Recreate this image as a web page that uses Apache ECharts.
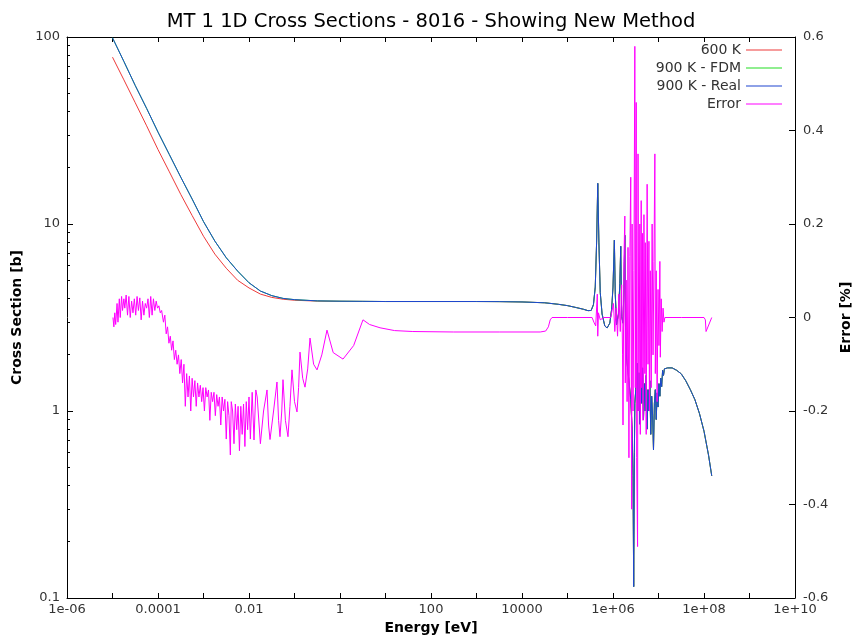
<!DOCTYPE html>
<html><head><meta charset="utf-8">
<script src="https://cdn.jsdelivr.net/npm/echarts@6/dist/echarts.min.js"></script>
<style>html,body{margin:0;padding:0;background:#fff}#c{width:856px;height:642px}</style>
</head><body><div id="c"></div>
<script>
const FONT = 'DejaVu Sans';
const chartTitle = 'MT 1 1D Cross Sections - 8016 - Showing New Method';
const seriesNames = ['600 K', '900 K - FDM', '900 K - Real', 'Error'];
const seriesColors = ['#ee3a3a', '#22dd22', '#1f45d0', '#ff00ff'];

// x axis (log10 of energy in eV)
const xTickExp = [-6,-5,-4,-3,-2,-1,0,1,2,3,4,5,6,7,8,9,10];
const xLabelExp = [-6,-4,-2,0,2,4,6,8,10];
const xLabelText = ['1e-06','0.0001','0.01','1','100','10000','1e+06','1e+08','1e+10'];
// left axis
const yLeftTicks = [0.1, 1, 10, 100];
const yLeftLabels = ['0.1', '1', '10', '100'];
const yLeftMinor = [0.2,0.3,0.4,0.5,0.6,0.7,0.8,0.9,2,3,4,5,6,7,8,9,20,30,40,50,60,70,80,90];
// right axis
const yRightTicks = [-0.6,-0.4,-0.2,0,0.2,0.4,0.6];
const yRightLabels = ['-0.6','-0.4','-0.2','0','0.2','0.4','0.6'];

// ---- cross sections, low-energy part (log10 E, barns) ----
const logELow = [-5.0,-4.75,-4.5,-4.25,-4.0,-3.75,-3.5,-3.25,-3.0,-2.75,-2.5,-2.25,-2.0,-1.75,-1.5,-1.25,-1.0,-0.5,0.0,0.5];
const xs600Low = [78,59,44.5,33.5,25,19,14.4,11.1,8.6,6.9,5.8,5.0,4.55,4.22,4.05,3.96,3.91,3.87,3.86,3.855];
const xs900Low = [99,74,55,41.5,31,23.5,17.8,13.6,10.3,8.1,6.6,5.6,4.85,4.38,4.14,4.0,3.94,3.88,3.865,3.858];
// ---- cross sections, high-energy part shared by all temperatures ----
const logEHigh = [1,2,3,3.5,4,4.5,4.8,5.0,5.2,5.35,5.45,5.52,5.57,5.61,5.64,5.665,5.69,5.72,5.76,5.82,5.87,5.93,5.97,6.0,6.03,6.05,6.08,6.12,6.15,6.17,6.19,6.22,6.24,6.26,6.275,6.30,6.35,6.39,6.42,6.44,6.455,6.47,6.48,
  6.50,6.53,6.55,6.57,6.59,6.61,6.63,6.65,6.67,6.69,6.71,6.73,6.75,6.77,6.79,6.81,6.83,6.85,6.87,6.89,6.91,6.93,6.95,6.97,6.99,7.01,7.03,7.05,7.07,7.09,7.11,7.13,7.2,7.3,7.4,7.5,7.6,7.7,7.8,7.9,8.0,8.1,8.17];
const xsHigh = [3.85,3.85,3.85,3.845,3.83,3.79,3.72,3.66,3.57,3.5,3.44,3.45,3.7,4.6,8.0,16.5,8.0,4.3,3.3,2.85,2.78,2.95,3.5,4.6,8.2,4.2,2.9,3.3,4.8,7.6,3.2,2.95,4.5,8.7,2.8,1.9,1.45,1.15,0.8,0.45,0.115,0.6,1.1,
  1.3,1.8,1.0,1.6,0.85,1.5,1.1,1.7,0.9,1.4,1.0,1.55,0.8,1.3,1.0,1.45,0.75,1.2,0.95,0.62,1.1,1.3,0.9,1.25,1.05,1.4,1.2,1.5,1.35,1.65,1.55,1.68,1.7,1.7,1.65,1.58,1.45,1.3,1.15,0.97,0.78,0.58,0.45];

// ---- error [%] (log10 E, percent) ----
const logEErr = [-4.99,-4.97,-4.95,-4.93,-4.90,-4.88,-4.85,-4.83,-4.80,-4.78,-4.75,-4.73,-4.70,-4.67,-4.64,-4.61,-4.58,-4.55,-4.52,-4.49,-4.46,-4.43,-4.40,-4.37,-4.34,-4.31,-4.28,-4.25,-4.22,-4.19,-4.16,-4.13,-4.10,-4.07,-4.04,-4.01,-3.98,-3.95,-3.92,-3.88,-3.85,-3.82,-3.79,-3.76,-3.73,-3.70,-3.67,-3.64,-3.61,-3.58,-3.55,-3.52,-3.49,-3.46,-3.43,-3.40,-3.37,-3.34,-3.31,-3.28,-3.25,-3.22,-3.19,-3.16,-3.13,-3.10,-3.07,-3.04,-3.01,-2.98,-2.95,-2.92,-2.89,-2.86,-2.83,-2.80,-2.77,-2.74,-2.71,-2.68,-2.65,-2.62,-2.59,-2.56,-2.53,-2.50,-2.47,-2.44,-2.41,-2.39,-2.36,-2.33,-2.30,-2.27,-2.24,-2.21,-2.18,-2.15,-2.12,-2.09,-2.06,-2.03,-2.00,-1.97,-1.93,-1.89,-1.85,-1.82,-1.75,-1.68,-1.604,-1.57,-1.538,-1.46,-1.385,-1.35,-1.319,-1.28,-1.253,-1.2,-1.143,-1.1,-1.055,-1.0,-0.945,-0.91,-0.879,-0.82,-0.769,-0.71,-0.659,-0.58,-0.505,-0.4,-0.286,-0.15,0.066,0.3,0.505,0.65,0.88,1.2,1.6,2.5,3.5,4.4,4.52,4.58,4.62,4.66,5.0,5.54,5.58,5.62,5.655,5.665,5.68,5.72,5.8,5.95,
  5.98,6.01,6.04,6.07,6.10,6.13,6.16,6.19,6.21,6.22,6.24,6.26,6.27,6.29,6.31,6.33,6.35,6.37,6.39,6.41,6.42,6.44,6.46,6.48,6.49,6.51,6.52,6.54,6.55,6.57,6.59,6.60,6.62,6.63,6.65,6.66,6.68,6.70,6.71,6.73,6.75,6.77,6.79,6.80,6.82,6.84,6.86,6.88,6.90,6.92,6.93,6.95,6.97,6.99,7.01,7.03,7.04,7.06,7.08,7.10,7.12,7.14,7.5,8.0,8.03,8.045,8.17];
const errVals = [0.00,-0.02,0.01,-0.015,0.03,-0.01,0.04,0.0,0.045,0.015,0.04,0.02,0.048,0.005,0.045,0.0,0.035,0.01,0.04,0.005,0.045,0.015,0.042,-0.005,0.035,0.005,0.03,0.02,0.04,0.0,0.045,0.005,0.04,0.015,0.035,0.02,0.025,0.01,0.015,-0.01,0.005,-0.035,-0.02,-0.055,-0.04,-0.07,-0.05,-0.09,-0.07,-0.1,-0.08,-0.12,-0.09,-0.14,-0.1,-0.19,-0.12,-0.17,-0.125,-0.2,-0.13,-0.17,-0.135,-0.19,-0.14,-0.17,-0.145,-0.18,-0.15,-0.2,-0.15,-0.17,-0.155,-0.22,-0.16,-0.18,-0.16,-0.21,-0.165,-0.19,-0.17,-0.23,-0.17,-0.2,-0.175,-0.26,-0.18,-0.21,-0.294,-0.18,-0.2,-0.27,-0.185,-0.24,-0.19,-0.285,-0.19,-0.25,-0.185,-0.276,-0.18,-0.24,-0.17,-0.26,-0.16,-0.262,-0.155,-0.17,-0.27,-0.2,-0.155,-0.23,-0.261,-0.2,-0.138,-0.22,-0.255,-0.2,-0.133,-0.22,-0.255,-0.19,-0.112,-0.18,-0.202,-0.15,-0.074,-0.13,-0.149,-0.11,-0.044,-0.1,-0.112,-0.08,-0.027,-0.075,-0.089,-0.06,-0.005,-0.015,-0.022,-0.028,-0.03,-0.031,-0.031,-0.031,-0.029,-0.02,-0.005,0.0,0.0,0.0,-0.01,-0.018,0.05,-0.04,0.01,-0.005,0.0,0.0,
  0.0,0.03,-0.03,0.02,-0.04,0.05,-0.03,0.07,-0.08,-0.23,0.12,0.217,-0.14,0.08,-0.18,0.15,-0.3,0.13,0.3,-0.41,0.2,-0.2,0.1,0.58,-0.15,0.46,-0.3,-0.49,0.35,-0.2,0.2,-0.25,0.25,-0.15,0.18,-0.22,0.22,-0.12,0.16,-0.25,0.285,-0.1,0.163,-0.2,0.1,-0.15,0.2,-0.08,0.12,0.35,-0.12,0.1,-0.18,0.06,-0.06,0.12,-0.085,0.04,-0.03,0.02,-0.01,0.0,0.0,0.0,-0.005,-0.03,0.0];

function pairs(logs, vals) { return logs.map((l, i) => [Math.pow(10, l), vals[i]]); }
const d600 = pairs(logELow.concat(logEHigh), xs600Low.concat(xsHigh));
const d900 = pairs(logELow.concat(logEHigh), xs900Low.concat(xsHigh));
const dErr = pairs(logEErr, errVals);

const txt = { fontFamily: FONT, fontSize: 13, color: '#333' };
const xTickVals = xTickExp.map(e => Math.pow(10, e));
const xLabVals = xLabelExp.map(e => Math.pow(10, e));
function xFmt(v) { const k = Math.round(Math.log10(v)); const i = xLabelExp.indexOf(k); return i >= 0 ? xLabelText[i] : ''; }
function yFmt(v) { const k = Math.log10(v); const i = yLeftTicks.findIndex(t => Math.abs(Math.log10(t) - k) < 1e-3); return i >= 0 ? yLeftLabels[i] : ''; }
function rFmt(v) { const i = yRightTicks.findIndex(t => Math.abs(t - v) < 1e-6); return i >= 0 ? yRightLabels[i] : ''; }
const axLine = { show: true, onZero: false, lineStyle: { color: '#000', width: 1 } };

const chart = echarts.init(document.getElementById('c'), null, { renderer: 'canvas' });
chart.setOption({
  animation: false,
  backgroundColor: '#fff',
  title: { text: chartTitle, left: 426, top: 7, textAlign: 'center',
    textStyle: { fontFamily: FONT, fontSize: 19.5, fontWeight: 'normal', color: '#000' } },
  legend: { data: seriesNames.map(n => ({ name: n, icon: 'rect' })), orient: 'vertical', right: 74, top: 43, align: 'right',
    padding: 0, itemWidth: 36, itemHeight: 1.2, itemGap: 4,
    textStyle: { fontFamily: FONT, fontSize: 14, color: '#333' } },
  grid: { left: 67, right: 61, top: 37, bottom: 44, containLabel: false, outerBoundsMode: 'none' },
  xAxis: [
    { type: 'log', logBase: 10, min: 1e-6, max: 1e10, splitNumber: 16, position: 'bottom',
      axisLine: axLine,
      axisTick: { show: true, inside: true, length: 5, customValues: xTickVals, lineStyle: { color: '#000' } },
      axisLabel: { show: true, customValues: xLabVals, formatter: xFmt, margin: 5, ...txt, showMinLabel: true, showMaxLabel: true },
      splitLine: { show: false },
      name: 'Energy [eV]', nameLocation: 'middle', nameGap: 22,
      nameTextStyle: { fontFamily: FONT, fontSize: 14, fontWeight: 'bold', color: '#000' } },
    { type: 'log', logBase: 10, min: 1e-6, max: 1e10, splitNumber: 16, position: 'top',
      axisLine: axLine,
      axisTick: { show: true, inside: true, length: 5, customValues: xTickVals, lineStyle: { color: '#000' } },
      axisLabel: { show: false }, splitLine: { show: false } }
  ],
  yAxis: [
    { type: 'log', logBase: 10, min: 0.1, max: 100, splitNumber: 3, position: 'left',
      axisLine: axLine,
      axisTick: { show: true, inside: true, length: 6, customValues: yLeftTicks, lineStyle: { color: '#000' } },
      axisLabel: { show: true, customValues: yLeftTicks, formatter: yFmt, margin: 7, ...txt },
      splitLine: { show: false },
      name: 'Cross Section [b]', nameLocation: 'middle', nameGap: 43, nameRotate: 90,
      nameTextStyle: { fontFamily: FONT, fontSize: 14, fontWeight: 'bold', color: '#000' } },
    { type: 'value', min: -0.6, max: 0.6, interval: 0.2, position: 'right',
      axisLine: axLine,
      axisTick: { show: true, inside: true, length: 6, lineStyle: { color: '#000' } },
      axisLabel: { show: true, formatter: rFmt, margin: 8, ...txt },
      splitLine: { show: false },
      name: 'Error [%]', nameLocation: 'middle', nameGap: 43, nameRotate: 90,
      nameTextStyle: { fontFamily: FONT, fontSize: 14, fontWeight: 'bold', color: '#000' } },
    { type: 'log', logBase: 10, min: 0.1, max: 100, position: 'left',
      axisLine: { show: false, onZero: false },
      axisTick: { show: true, inside: true, length: 3, customValues: yLeftMinor, lineStyle: { color: '#000' } },
      axisLabel: { show: false }, splitLine: { show: false } }
  ],
  series: [
    { name: seriesNames[0], type: 'line', xAxisIndex: 0, yAxisIndex: 0, data: d600, symbol: 'none', showSymbol: false,
      lineStyle: { color: seriesColors[0], width: 1 }, itemStyle: { color: seriesColors[0] } },
    { name: seriesNames[1], type: 'line', xAxisIndex: 0, yAxisIndex: 0, data: d900, symbol: 'none', showSymbol: false,
      lineStyle: { color: seriesColors[1], width: 1 }, itemStyle: { color: seriesColors[1] } },
    { name: seriesNames[2], type: 'line', xAxisIndex: 0, yAxisIndex: 0, data: d900, symbol: 'none', showSymbol: false,
      lineStyle: { color: seriesColors[2], width: 1 }, itemStyle: { color: seriesColors[2] } },
    { name: seriesNames[3], type: 'line', xAxisIndex: 0, yAxisIndex: 1, data: dErr, symbol: 'none', showSymbol: false,
      lineStyle: { color: seriesColors[3], width: 1 }, itemStyle: { color: seriesColors[3] } }
  ]
});
</script></body></html>
